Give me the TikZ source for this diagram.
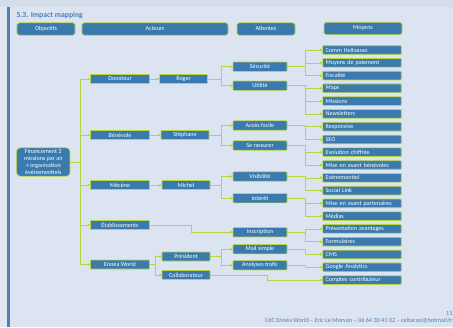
\documentclass[tikz,border=0pt]{standalone}
\usepackage{fontspec}
\setmainfont{Carlito}
\usetikzlibrary{arrows.meta}
\definecolor{slidebg}{HTML}{DCE4F2}
\definecolor{topband}{HTML}{D5DCEA}
\definecolor{sideband}{HTML}{E2E6EF}
\definecolor{boxblue}{HTML}{3A7AAE}
\definecolor{boxedge}{HTML}{B7D63E}
\definecolor{titleblue}{HTML}{4A7FB8}
\begin{document}
\begin{tikzpicture}[x=0.03cm,y=-0.03cm,inner sep=0pt,outer sep=0pt,
font=\fontsize{5.2}{6}\selectfont,
box/.style={draw=boxedge,fill=boxblue,text=white,line width=0.6pt,rounded corners=0.6pt},
headbox/.style={box,minimum height=0.37cm,rounded corners=1.5pt},
actbox/.style={box,minimum width=1.77cm,minimum height=0.27cm},
namebox/.style={box,minimum width=1.44cm,minimum height=0.27cm},
attbox/.style={box,minimum width=1.62cm,minimum height=0.28cm},
moybox/.style={box,minimum height=0.26cm,text width=62pt,inner xsep=2.5pt,align=left},
link/.style={draw=boxedge,line width=0.5pt,-{Triangle[length=2.2pt,width=2.2pt]}}]
\useasboundingbox (0,0) rectangle (453,327);
% slide background
\fill[slidebg] (0,0) rectangle (453,327);
\fill[sideband] (0,0) rectangle (7,327);
\fill[topband] (0,0) rectangle (453,7);
\fill[titleblue] (7.3,7) rectangle (10.3,327);
\node[anchor=west,text=titleblue,font=\fontsize{6.6}{7.5}\selectfont\bfseries] (title) at (16.5,15.5) {5.3. Impact mapping};
% column heads
\node[headbox,minimum width=1.74cm] (hobj) at (46,29) {Objectifs};
\node[headbox,minimum width=4.38cm] (hact) at (155,29) {Acteurs};
\node[headbox,minimum width=1.74cm] (hatt) at (266,29) {Attentes};
\node[headbox,minimum width=2.34cm] (hmoy) at (363,28.5) {Moyens};
% objective
\node[box,minimum width=1.6cm,minimum height=0.85cm,rounded corners=3pt,align=center] (obj) at (43.3,162) {Financement 2\\missions par an\\+ organisation\\événementiels};
% actors
\node[actbox] (donateur) at (120,79) {Donateur};
\node[actbox] (benevole) at (120,135) {Bénévole};
\node[actbox] (mecene) at (120,185) {Mécène};
\node[actbox] (etab) at (120,225) {Établissements};
\node[actbox] (ennea) at (120,264.5) {Ennéa World};
\node[namebox] (roger) at (183.5,79) {Roger};
\node[namebox] (stephane) at (185,135) {Stéphane};
\node[namebox] (michel) at (186,185) {Michel};
\node[namebox] (president) at (186,256.5) {Président};
\node[namebox] (collab) at (186,275) {Collaborateur};
% attentes
\node[attbox] (secu) at (260,66.7) {Sécurité};
\node[attbox] (utilite) at (260,85.7) {Utilité};
\node[attbox] (acces) at (260,125.5) {Accès facile};
\node[attbox] (rassurer) at (260,145.5) {Se rassurer};
\node[attbox] (visib) at (260,176.5) {Visibilité};
\node[attbox] (interet) at (260,198.2) {Intérêt};
\node[attbox] (inscr) at (260,232.3) {Inscription};
\node[attbox] (mail) at (260,249.2) {Mail simple};
\node[attbox] (trafic) at (260,265.3) {Analyses trafic};
% moyens
\node[moybox] (helloasso) at (362,50) {Comm Helloasso};
\node[moybox] (paiement) at (362,62.8) {Moyens de paiement};
\node[moybox] (fiscal) at (362,75.6) {Fiscalité};
\node[moybox] (maps) at (362,88.3) {Maps};
\node[moybox] (missions) at (362,101.1) {Missions};
\node[moybox] (news) at (362,113.9) {Newsletters};
\node[moybox] (respons) at (362,126.7) {Responsive};
\node[moybox] (seo) at (362,139.5) {SEO};
\node[moybox] (evol) at (362,152.2) {Evolution chiffrée};
\node[moybox] (misebene) at (362,165) {Mise en avant bénévoles};
\node[moybox] (event) at (362,177.8) {Evénementiel};
\node[moybox] (social) at (362,190.6) {Social Link};
\node[moybox] (misepart) at (362,203.4) {Mise en avant partenaires};
\node[moybox] (medias) at (362,216.2) {Médias};
\node[moybox] (avantages) at (362,228.9) {Présentation avantages};
\node[moybox] (formul) at (362,241.7) {Formulaires};
\node[moybox] (cms) at (362,254.5) {CMS};
\node[moybox] (google) at (362,267.3) {Google Analytics};
\node[moybox] (comptes) at (362,280.1) {Comptes contributeur};
% footer
\node[anchor=east,text=titleblue,font=\fontsize{5.3}{6}\selectfont] (footer) at (452.5,321) {CdC Ennéa World -- Eric Le Morvan -- 06 64 30 41 02 -- celtacao@hotmail.fr};
\node[anchor=east,text=titleblue,font=\fontsize{5.3}{6}\selectfont] (pagenum) at (452.5,313) {11};
% junctions
\coordinate (jobj) at (80,0);
\coordinate (jew) at (155,0);
\coordinate (jins) at (191,0);
\coordinate (jatt) at (221,0);
\coordinate (jcol) at (267,0);
\coordinate (jmoy) at (305.5,0);
% objective to actors
\draw[link] (obj.east) -- (obj.east -| jobj) |- (donateur.west);
\draw[link] (obj.east) -- (obj.east -| jobj) |- (benevole.west);
\draw[link] (obj.east) -- (obj.east -| jobj) |- (mecene.west);
\draw[link] (obj.east) -- (obj.east -| jobj) |- (etab.west);
\draw[link] (obj.east) -- (obj.east -| jobj) |- (ennea.west);
\draw[link] (donateur) -- (roger);
\draw[link] (benevole) -- (stephane);
\draw[link] (mecene) -- (michel);
\draw[link] (ennea.east) -- (ennea.east -| jew) |- (president.west);
\draw[link] (ennea.east) -- (ennea.east -| jew) |- (collab.west);
% actors to attentes
\draw[link] (roger.east) -- (roger.east -| jatt) |- (secu.west);
\draw[link] (roger.east) -- (roger.east -| jatt) |- (utilite.west);
\draw[link] (stephane.east) -- (stephane.east -| jatt) |- (acces.west);
\draw[link] (stephane.east) -- (stephane.east -| jatt) |- (rassurer.west);
\draw[link] (michel.east) -- (michel.east -| jatt) |- (visib.west);
\draw[link] (michel.east) -- (michel.east -| jatt) |- (interet.west);
\draw[link] (etab.east) -- (etab.east -| jins) |- (inscr.west);
\draw[link] (president.east) -- (president.east -| jatt) |- (mail.west);
\draw[link] (president.east) -- (president.east -| jatt) |- (trafic.west);
\draw[link] (collab.east) -- (collab.east -| jcol) |- (comptes.west);
% attentes to moyens
\draw[link] (secu.east) -- (secu.east -| jmoy) |- (helloasso.west);
\draw[link] (secu.east) -- (secu.east -| jmoy) |- (paiement.west);
\draw[link] (secu.east) -- (secu.east -| jmoy) |- (fiscal.west);
\draw[link] (utilite.east) -- (utilite.east -| jmoy) |- (maps.west);
\draw[link] (utilite.east) -- (utilite.east -| jmoy) |- (missions.west);
\draw[link] (utilite.east) -- (utilite.east -| jmoy) |- (news.west);
\draw[link] (acces.east) -- (acces.east -| jmoy) |- (respons.west);
\draw[link] (acces.east) -- (acces.east -| jmoy) |- (seo.west);
\draw[link] (rassurer.east) -- (rassurer.east -| jmoy) |- (evol.west);
\draw[link] (rassurer.east) -- (rassurer.east -| jmoy) |- (misebene.west);
\draw[link] (visib.east) -- (visib.east -| jmoy) |- (event.west);
\draw[link] (visib.east) -- (visib.east -| jmoy) |- (social.west);
\draw[link] (interet.east) -- (interet.east -| jmoy) |- (misepart.west);
\draw[link] (interet.east) -- (interet.east -| jmoy) |- (medias.west);
\draw[link] (inscr.east) -- (inscr.east -| jmoy) |- (avantages.west);
\draw[link] (inscr.east) -- (inscr.east -| jmoy) |- (formul.west);
\draw[link] (mail.east) -- (mail.east -| jmoy) |- (cms.west);
\draw[link] (trafic.east) -- (trafic.east -| jmoy) |- (google.west);
\end{tikzpicture}
\end{document}
